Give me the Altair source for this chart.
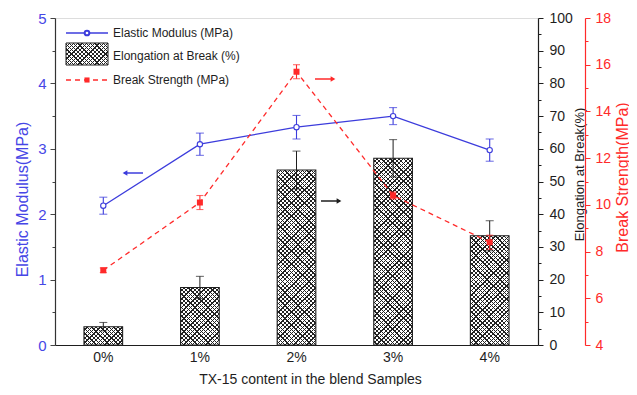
import math
import altair as alt
import pandas as pd

# ---------------- data ----------------
cats = ["0%", "1%", "2%", "3%", "4%"]
modulus = [2.13, 3.07, 3.33, 3.50, 2.98]
modulus_err = [0.13, 0.17, 0.18, 0.13, 0.17]
elong = [5.6, 17.6, 53.5, 57.1, 33.4]
elong_err = [1.3, 3.4, 5.8, 5.7, 4.6]
strength = [7.2, 10.1, 15.7, 10.4, 8.4]
strength_err = [0.1, 0.3, 0.3, 0.15, 0.3]

legend_labels = ["Elastic Modulus (MPa)", "Elongation at Break (%)", "Break Strength (MPa)"]
x_title = "TX-15 content in the blend Samples"
y1_title = "Elastic Modulus(MPa)"
y2_title = "Elongation at Break(%)"
y3_title = "Break Strength(MPa)"

# ---------------- style ----------------
W, H = 483, 327
P_IN, P_OUT = 0.6, 0.3
FONT = "Liberation Sans"
BLUE = "#3c3cdc"
BLUE_TXT = "#4646e6"
RED = "#ff2a2a"
INK = "#1e1e1e"

df = pd.DataFrame({
    "cat": cats,
    "mod": modulus,
    "mod_lo": [v - e for v, e in zip(modulus, modulus_err)],
    "mod_hi": [v + e for v, e in zip(modulus, modulus_err)],
    "el": elong,
    "el_lo": [v - e for v, e in zip(elong, elong_err)],
    "el_hi": [v + e for v, e in zip(elong, elong_err)],
    "bs": strength,
    "bs_lo": [v - e for v, e in zip(strength, strength_err)],
    "bs_hi": [v + e for v, e in zip(strength, strength_err)],
})
one = pd.DataFrame({"k": [0]})


def hatch(w, h, direction, bg, period=3.1, lw=0.9, ink="#222222"):
    """Linear-gradient stripes at 45 degrees inside a w x h box."""
    span = (w + h) / math.sqrt(2)
    n = max(1, int(round(span / period)))
    d = w * (w + h) / (w * w + h * h)
    e = h * (w + h) / (w * w + h * h)
    if direction == "/":
        x1, y1, x2, y2 = 0, 0, d, e
    else:
        x1, y1, x2, y2 = 0, 1, d, 1 - e
    f = lw / period
    stops = []
    for k in range(n):
        a = round(k / n, 5)
        b = round((k + 1 - f) / n, 5)
        c = round((k + 1) / n, 5)
        stops += [
            {"offset": a, "color": bg},
            {"offset": b, "color": bg},
            {"offset": b, "color": ink},
            {"offset": c, "color": ink},
        ]
    return {"gradient": "linear", "x1": x1, "y1": y1, "x2": x2, "y2": y2, "stops": stops}


def minor_dash(test):
    # minor ticks: only the first 3px of each tick are drawn
    return {"condition": {"test": test, "value": [3, 20]}, "value": [20, 0]}


x_enc = alt.X(
    "cat:N", sort=cats,
    scale=alt.Scale(paddingInner=P_IN, paddingOuter=P_OUT),
    axis=alt.Axis(
        title=x_title, labelAngle=0, ticks=False, domainColor=INK, domainWidth=1.2,
        labelColor=INK, labelFontSize=14, labelPadding=5, labelFont=FONT,
        titleFontSize=14, titleFontWeight="normal", titleColor=INK, titleFont=FONT,
        titleY=27, titleX=255, titleBaseline="top",
    ),
)

ys_mod = alt.Scale(domain=[0, 5], nice=False, zero=False)
ys_el = alt.Scale(domain=[0, 100], nice=False, zero=False)
ys_bs = alt.Scale(domain=[4, 18], nice=False, zero=False)

axis_mod = alt.Axis(
    orient="left", title=y1_title, grid=False,
    values=[i * 0.5 for i in range(11)],
    labelExpr="datum.value % 1 === 0 ? format(datum.value, 'd') : ''",
    tickSize=5, tickDash=minor_dash("datum.value % 1 !== 0"),
    tickColor="#444", domainColor="#333", domainWidth=1.2,
    labelColor=BLUE_TXT, labelFontSize=15, labelPadding=4, labelFont=FONT,
    titleColor=BLUE_TXT, titleFontSize=16, titleFontWeight="normal", titleFont=FONT,
    titleX=-33, titleY=181, titleAngle=270, titleBaseline="middle",
)
axis_el = alt.Axis(
    orient="right", title=y2_title, grid=False,
    values=[i * 5 for i in range(21)],
    labelExpr="datum.value % 10 === 0 ? format(datum.value, 'd') : ''",
    tickSize=5, tickDash=minor_dash("datum.value % 10 !== 0"),
    tickColor=INK, domainColor=INK, domainWidth=1.2,
    labelColor=INK, labelFontSize=14, labelPadding=6, labelFont=FONT,
    titleColor=INK, titleFontSize=13, titleFontWeight="normal", titleFont=FONT,
    titleX=41, titleY=156, titleAngle=270, titleBaseline="middle",
)
axis_bs = alt.Axis(
    orient="right", offset=47, title=y3_title, grid=False,
    values=list(range(4, 19)),
    labelExpr="datum.value % 2 === 0 ? format(datum.value, 'd') : ''",
    tickSize=5, tickDash=minor_dash("datum.value % 2 !== 0"),
    tickColor=RED, domainColor=RED, domainWidth=1.2,
    labelColor=RED, labelFontSize=14, labelPadding=5, labelFont=FONT,
    titleColor=RED, titleFontSize=16, titleFontWeight="normal", titleFont=FONT,
    titleX=37, titleY=159, titleAngle=270, titleBaseline="middle",
)

base = alt.Chart(df)

# ---------------- bars (elongation) ----------------
step = W / (len(cats) - P_IN + 2 * P_OUT)
bw = step * (1 - P_IN)
layers = []
for i, c in enumerate(cats):
    h = elong[i] / 100 * H
    layers.append(
        base.transform_filter(alt.datum.cat == c)
        .mark_bar(fill=hatch(bw, h, "\\", "white"))
        .encode(x=x_enc, y=alt.Y("el:Q", scale=ys_el, axis=None))
    )
    layers.append(
        base.transform_filter(alt.datum.cat == c)
        .mark_bar(fill=hatch(bw, h, "/", "rgba(255,255,255,0)"))
        .encode(x=x_enc, y=alt.Y("el:Q", scale=ys_el, axis=None))
    )
layers += [
    base.mark_bar(fillOpacity=0, stroke=INK, strokeWidth=1.1).encode(
        x=x_enc, y=alt.Y("el:Q", scale=ys_el, axis=axis_el)),
    base.mark_rule(color=INK, strokeWidth=1).encode(
        x=x_enc, y=alt.Y("el_lo:Q", scale=ys_el, axis=None), y2="el_hi:Q"),
    base.mark_tick(color=INK, size=8, thickness=1).encode(
        x=x_enc, y=alt.Y("el_lo:Q", scale=ys_el, axis=None)),
    base.mark_tick(color=INK, size=8, thickness=1).encode(
        x=x_enc, y=alt.Y("el_hi:Q", scale=ys_el, axis=None)),
]

# ---------------- elastic modulus ----------------
layers += [
    base.mark_rule(color=BLUE, strokeWidth=1.1).encode(
        x=x_enc, y=alt.Y("mod_lo:Q", scale=ys_mod, axis=None), y2="mod_hi:Q"),
    base.mark_tick(color=BLUE, size=8, thickness=1.1).encode(
        x=x_enc, y=alt.Y("mod_lo:Q", scale=ys_mod, axis=None)),
    base.mark_tick(color=BLUE, size=8, thickness=1.1).encode(
        x=x_enc, y=alt.Y("mod_hi:Q", scale=ys_mod, axis=None)),
    base.mark_line(color=BLUE, strokeWidth=1.3).encode(
        x=x_enc, y=alt.Y("mod:Q", scale=ys_mod, axis=axis_mod)),
    base.mark_point(shape="circle", filled=True, fill="white", stroke=BLUE,
                    strokeWidth=1.1, size=28, opacity=1).encode(
        x=x_enc, y=alt.Y("mod:Q", scale=ys_mod, axis=None)),
]

# ---------------- break strength ----------------
layers += [
    base.mark_rule(color=RED, strokeWidth=1.1).encode(
        x=x_enc, y=alt.Y("bs_lo:Q", scale=ys_bs, axis=None), y2="bs_hi:Q"),
    base.mark_tick(color=RED, size=7, thickness=1.1).encode(
        x=x_enc, y=alt.Y("bs_lo:Q", scale=ys_bs, axis=None)),
    base.mark_tick(color=RED, size=7, thickness=1.1).encode(
        x=x_enc, y=alt.Y("bs_hi:Q", scale=ys_bs, axis=None)),
    base.mark_line(color=RED, strokeWidth=1.3, strokeDash=[5, 4]).encode(
        x=x_enc, y=alt.Y("bs:Q", scale=ys_bs, axis=axis_bs)),
    base.mark_point(shape="square", filled=True, color=RED, size=36, opacity=1).encode(
        x=x_enc, y=alt.Y("bs:Q", scale=ys_bs, axis=None)),
]

# ---------------- legend ----------------
ob = alt.Chart(one)
layers += [
    ob.mark_rule(color=BLUE, strokeWidth=1.3).encode(x=alt.value(11), x2=alt.value(53), y=alt.value(15)),
    ob.mark_point(shape="circle", filled=True, fill="white", stroke=BLUE, size=22, opacity=1)
      .encode(x=alt.value(32), y=alt.value(15)),
    ob.mark_rect(fill=hatch(42, 22, "\\", "white")).encode(
        x=alt.value(11), x2=alt.value(53), y=alt.value(25), y2=alt.value(47)),
    ob.mark_rect(fill=hatch(42, 22, "/", "rgba(255,255,255,0)"), stroke=INK, strokeWidth=1).encode(
        x=alt.value(11), x2=alt.value(53), y=alt.value(25), y2=alt.value(47)),
    ob.mark_rule(color=RED, strokeWidth=1.3, strokeDash=[5, 4]).encode(
        x=alt.value(11), x2=alt.value(53), y=alt.value(62)),
    ob.mark_point(shape="square", filled=True, color=RED, size=26, opacity=1)
      .encode(x=alt.value(32), y=alt.value(62)),
]
for lab, yy in zip(legend_labels, [15, 38, 62]):
    layers.append(ob.mark_text(align="left", baseline="middle", font=FONT, fontSize=12, color=INK)
                  .encode(x=alt.value(58), y=alt.value(yy), text=alt.value(lab)))

# ---------------- arrows ----------------
layers += [
    ob.mark_rule(color=BLUE, strokeWidth=1.5).encode(x=alt.value(69), x2=alt.value(88), y=alt.value(155)),
    ob.mark_point(shape="triangle-left", filled=True, color=BLUE, size=30, opacity=1)
      .encode(x=alt.value(70), y=alt.value(155)),
    ob.mark_rule(color=INK, strokeWidth=1.5).encode(x=alt.value(266), x2=alt.value(285), y=alt.value(183)),
    ob.mark_point(shape="triangle-right", filled=True, color=INK, size=30, opacity=1)
      .encode(x=alt.value(284), y=alt.value(183)),
    ob.mark_rule(color=RED, strokeWidth=1.5).encode(x=alt.value(260), x2=alt.value(279), y=alt.value(61)),
    ob.mark_point(shape="triangle-right", filled=True, color=RED, size=30, opacity=1)
      .encode(x=alt.value(278), y=alt.value(61)),
]

chart = (
    alt.layer(*layers)
    .resolve_scale(y="independent")
    .properties(
        width=W, height=H,
        autosize=alt.AutoSizeParams(type="none"),
        padding={"left": 47, "top": 10, "right": 91, "bottom": 41},
    )
    .configure_view(strokeWidth=0)
    .configure(font=FONT)
)

chart.save("out.html", embed_options={"renderer": "svg", "actions": False})
